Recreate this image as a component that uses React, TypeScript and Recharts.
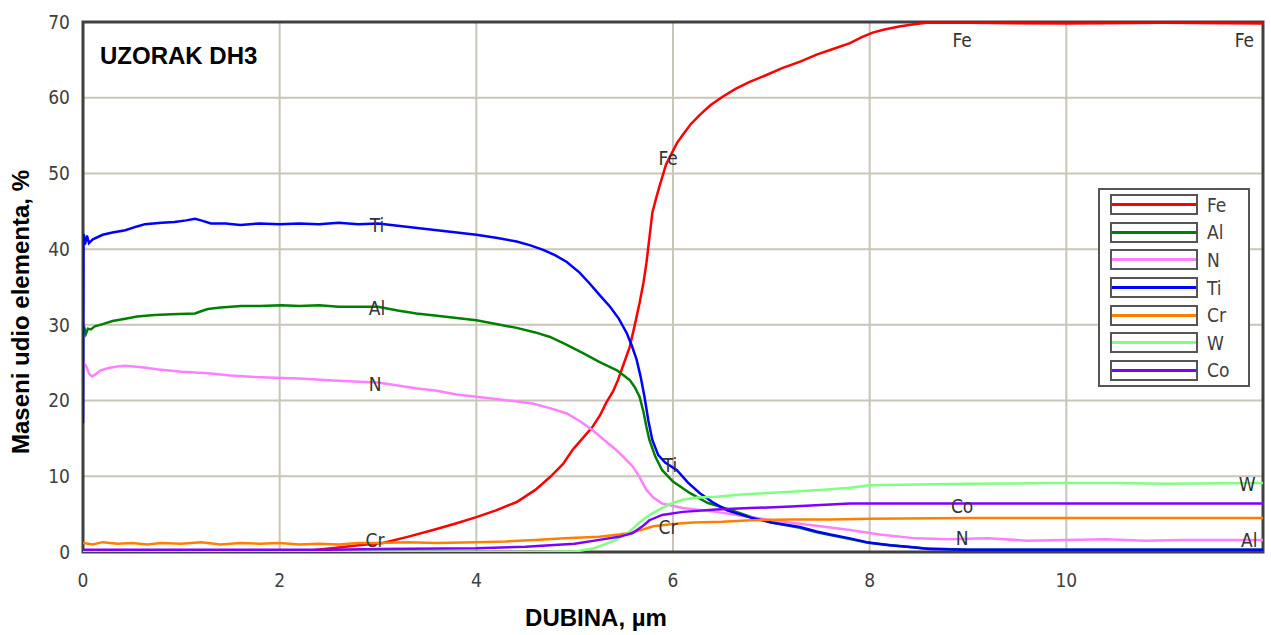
import React from "react"
import {
  LineChart,
  Line,
  XAxis,
  YAxis,
  CartesianGrid,
  Legend,
  ReferenceDot,
  ReferenceArea,
} from "recharts"

// depth (µm), mass fraction (%)
const fe = [
  [0, 0.1], [2.3, 0.2], [2.38, 0.3], [2.6, 0.6], [2.8, 0.9], [3.05, 1.2], [3.3, 2.0], [3.56, 2.9],
  [3.8, 3.8], [4.0, 4.6], [4.2, 5.5], [4.41, 6.6], [4.6, 8.2], [4.75, 9.9], [4.88, 11.6],
  [4.98, 13.5], [5.08, 15.0], [5.18, 16.5], [5.26, 18.1], [5.32, 19.7], [5.39, 21.2],
  [5.44, 22.7], [5.5, 24.9], [5.56, 27.1], [5.61, 29.9], [5.66, 32.9], [5.7, 35.6],
  [5.73, 38.2], [5.76, 41.5], [5.79, 44.8], [5.83, 46.8], [5.86, 48.2], [5.93, 51.2],
  [6.04, 54.0], [6.1, 55.1], [6.18, 56.5], [6.27, 57.7], [6.38, 59.0], [6.5, 60.1],
  [6.64, 61.2], [6.78, 62.1], [6.95, 63.0], [7.11, 63.9], [7.3, 64.8], [7.46, 65.7],
  [7.62, 66.4], [7.8, 67.2], [7.92, 68.0], [8.03, 68.6], [8.15, 69.0], [8.3, 69.4],
  [8.45, 69.7], [8.58, 69.9], [9, 69.9], [10, 69.8], [11, 69.9], [12, 69.8],
]

const al = [
  [0, 28.5], [0.01, 29.8], [0.03, 28.8], [0.05, 29.5], [0.08, 29.4], [0.12, 29.8], [0.2, 30.1],
  [0.3, 30.5], [0.43, 30.8], [0.55, 31.1], [0.73, 31.3], [0.9, 31.4], [1.14, 31.5], [1.2, 31.8],
  [1.27, 32.1], [1.4, 32.3], [1.61, 32.5], [1.8, 32.5], [2.02, 32.6], [2.2, 32.5], [2.4, 32.6],
  [2.6, 32.4], [2.8, 32.4], [3.0, 32.4], [3.2, 31.9], [3.39, 31.5], [3.6, 31.2], [3.8, 30.9],
  [4.0, 30.6], [4.2, 30.1], [4.41, 29.6], [4.6, 29.0], [4.75, 28.4], [4.9, 27.5], [5.08, 26.3],
  [5.25, 25.1], [5.43, 24.0], [5.5, 23.3], [5.56, 22.7], [5.61, 21.8], [5.66, 20.5], [5.7, 18.5],
  [5.73, 16.5], [5.76, 14.8], [5.82, 12.6], [5.89, 10.8], [6.0, 9.3], [6.17, 7.8], [6.35, 6.5],
  [6.6, 5.5], [6.8, 4.6], [7.0, 3.9], [7.29, 3.2], [7.46, 2.6], [7.8, 1.7], [8.0, 1.2],
  [8.3, 0.8], [8.54, 0.5], [9, 0.3], [12, 0.3],
]

const n = [
  [0, 25.0], [0.03, 24.6], [0.06, 23.6], [0.09, 23.2], [0.12, 23.4], [0.18, 24.0], [0.26, 24.3],
  [0.35, 24.5], [0.43, 24.6], [0.6, 24.4], [0.77, 24.1], [1.0, 23.8], [1.27, 23.6], [1.5, 23.3],
  [1.75, 23.1], [1.95, 23.0], [2.2, 22.9], [2.5, 22.7], [2.8, 22.5], [3.0, 22.4], [3.2, 22.0],
  [3.4, 21.6], [3.6, 21.3], [3.8, 20.8], [4.0, 20.5], [4.2, 20.2], [4.4, 19.9], [4.57, 19.6],
  [4.75, 19.0], [4.92, 18.3], [5.05, 17.3], [5.18, 16.1], [5.3, 14.8], [5.42, 13.5], [5.5, 12.5],
  [5.59, 11.3], [5.66, 9.9], [5.73, 8.2], [5.8, 7.2], [5.89, 6.4], [6.1, 5.8], [6.44, 5.3],
  [6.8, 4.6], [7.11, 4.0], [7.5, 3.4], [7.8, 2.9], [8.1, 2.3], [8.47, 1.8], [8.8, 1.7],
  [9.2, 1.8], [9.6, 1.5], [10, 1.6], [10.4, 1.7], [10.8, 1.5], [11.2, 1.6], [11.6, 1.6], [12, 1.6],
]

const ti = [
  [0, 17], [0.005, 42], [0.02, 40.6], [0.04, 41.8], [0.06, 40.8], [0.1, 41.3], [0.2, 41.9],
  [0.3, 42.2], [0.43, 42.5], [0.55, 43.0], [0.63, 43.3], [0.8, 43.5], [0.93, 43.6], [1.05, 43.8],
  [1.14, 44.0], [1.2, 43.8], [1.3, 43.4], [1.45, 43.4], [1.6, 43.2], [1.8, 43.4], [2.0, 43.3],
  [2.2, 43.4], [2.4, 43.3], [2.6, 43.5], [2.8, 43.3], [3.0, 43.4], [3.2, 43.1], [3.4, 42.8],
  [3.6, 42.5], [3.8, 42.2], [4.0, 41.9], [4.2, 41.5], [4.41, 41.0], [4.55, 40.5], [4.68, 39.9],
  [4.8, 39.2], [4.92, 38.3], [5.05, 36.9], [5.15, 35.5], [5.25, 34.0], [5.36, 32.4], [5.45, 30.8],
  [5.53, 28.9], [5.58, 27.3], [5.63, 25.4], [5.67, 23.2], [5.71, 20.5], [5.75, 17.3], [5.79, 14.8],
  [5.85, 12.8], [5.92, 11.8], [6.04, 10.8], [6.15, 9.2], [6.27, 7.8], [6.4, 6.6], [6.55, 5.5],
  [6.78, 4.6], [7.0, 3.9], [7.29, 3.3], [7.46, 2.7], [7.6, 2.3], [7.8, 1.8], [7.97, 1.3],
  [8.2, 0.9], [8.47, 0.6], [8.6, 0.4], [9, 0.3], [10, 0.3], [11, 0.3], [12, 0.3],
]

const cr = [
  [0, 1.2], [0.1, 1.0], [0.2, 1.3], [0.35, 1.1], [0.5, 1.2], [0.65, 1.0], [0.8, 1.2], [1.0, 1.1],
  [1.2, 1.3], [1.4, 1.0], [1.6, 1.2], [1.8, 1.1], [2.0, 1.2], [2.2, 1.0], [2.4, 1.1], [2.6, 1.0],
  [2.8, 1.2], [3.0, 1.2], [3.3, 1.3], [3.6, 1.2], [4.0, 1.3], [4.3, 1.4], [4.6, 1.6], [4.9, 1.8],
  [5.25, 2.0], [5.45, 2.3], [5.59, 2.6], [5.7, 3.0], [5.8, 3.4], [6.0, 3.7], [6.2, 3.9],
  [6.5, 4.0], [6.8, 4.2], [7.2, 4.3], [7.6, 4.3], [8.0, 4.4], [9, 4.5], [10, 4.5], [11, 4.5], [12, 4.5],
]

const w = [
  [0, 0], [4.6, 0], [5.02, 0.1], [5.2, 0.5], [5.42, 1.6], [5.55, 2.6], [5.65, 3.8], [5.73, 4.6],
  [5.79, 5.1], [5.9, 5.9], [6.0, 6.5], [6.1, 6.9], [6.25, 7.2], [6.44, 7.3], [6.7, 7.6],
  [7.11, 7.9], [7.5, 8.2], [7.8, 8.5], [8.0, 8.8], [8.5, 8.9], [9, 9.0], [9.83, 9.1],
  [10.5, 9.1], [11, 9.0], [12, 9.1],
]

const co = [
  [0, 0.3], [2.5, 0.3], [3.0, 0.4], [4.0, 0.5], [4.5, 0.7], [4.75, 0.9], [5.0, 1.1], [5.25, 1.6],
  [5.45, 2.0], [5.59, 2.5], [5.7, 3.5], [5.76, 4.2], [5.89, 4.9], [6.1, 5.3], [6.44, 5.6],
  [6.78, 5.8], [7.2, 6.0], [7.8, 6.4], [8.5, 6.4], [12, 6.4],
]

const xTicks = [0, 2, 4, 6, 8, 10]
const yTicks = [0, 10, 20, 30, 40, 50, 60, 70]

const series = [
  { name: "Fe", points: fe, color: "#ff0000" },
  { name: "Al", points: al, color: "#008000" },
  { name: "N", points: n, color: "#ff80ff" },
  { name: "Ti", points: ti, color: "#0000ff" },
  { name: "Cr", points: cr, color: "#ff8000" },
  { name: "W", points: w, color: "#80ff80" },
  { name: "Co", points: co, color: "#8000ff" },
]

// element names written on the curves
const curveLabels = [
  { text: "Ti", x: 2.99, y: 43.1 },
  { text: "Al", x: 2.99, y: 32.2 },
  { text: "N", x: 2.97, y: 22.1 },
  { text: "Cr", x: 2.97, y: 1.6 },
  { text: "Fe", x: 5.95, y: 52.0 },
  { text: "Ti", x: 5.97, y: 11.5 },
  { text: "Cr", x: 5.95, y: 3.3 },
  { text: "Fe", x: 8.94, y: 67.6 },
  { text: "Co", x: 8.94, y: 6.0 },
  { text: "N", x: 8.94, y: 1.8 },
  { text: "Fe", x: 11.81, y: 67.6 },
  { text: "W", x: 11.84, y: 8.9 },
  { text: "Al", x: 11.86, y: 1.6 },
]

const tickFont = { fontFamily: "'DejaVu Sans Condensed', 'DejaVu Sans', sans-serif", fontSize: 19, fill: "#404040" }
const titleFont = { fontFamily: "'Liberation Sans', Arial, sans-serif", fontSize: 24, fontWeight: 700, fill: "#000" }

// legend keeps the series order (Fe, Al, N, Ti, Cr, W, Co)
function LegendBox() {
  return (
    <div
      style={{
        border: "2px solid #555",
        background: "#fff",
        width: 152,
        padding: "1px 0 1px 10px",
        boxSizing: "border-box",
      }}
    >
      {series.map((s) => (
        <div key={s.name} style={{ display: "flex", alignItems: "center", height: 27.6 }}>
          <div
            style={{
              width: 88,
              height: 21,
              border: "2px solid #555",
              boxSizing: "border-box",
              display: "flex",
              alignItems: "center",
            }}
          >
            <div style={{ width: "100%", height: 3, background: s.color }} />
          </div>
          <span style={{ ...tickFont, color: "#404040", marginLeft: 9, lineHeight: "20px" }}>{s.name}</span>
        </div>
      ))}
    </div>
  )
}

export default function App() {
  return (
    <div style={{ position: "absolute", left: 0, top: 0, width: 1271, height: 635, background: "#fff" }}>
      <LineChart width={1271} height={635} margin={{ top: 22, right: 8, left: 0, bottom: 0 }}>
        <CartesianGrid stroke="#c9c5b9" strokeWidth={2} />
        <XAxis
          type="number"
          dataKey="d"
          domain={[0, 12]}
          ticks={xTicks}
          allowDataOverflow
          height={83}
          tickSize={0}
          tickMargin={22}
          axisLine={false}
          tick={tickFont}
          label={{ value: "DUBINA, µm", position: "center", dx: -77, dy: 24, style: titleFont }}
        />
        <YAxis
          type="number"
          domain={[0, 70]}
          ticks={yTicks}
          allowDataOverflow
          width={83}
          tickSize={0}
          tickMargin={13}
          axisLine={false}
          tick={tickFont}
          label={{ value: "Maseni udio elementa, %", angle: -90, position: "center", dx: -21, dy: 25, style: titleFont }}
        />
        <ReferenceArea x1={0} x2={12} y1={0} y2={70} fill="none" fillOpacity={0} stroke="#404040" strokeWidth={3} />
        {series.map((s) => (
          <Line
            key={s.name}
            name={s.name}
            data={s.points.map(([d, v]) => ({ d, v }))}
            dataKey="v"
            type="linear"
            stroke={s.color}
            strokeWidth={2.5}
            dot={false}
            activeDot={false}
            isAnimationActive={false}
          />
        ))}
        {curveLabels.map((l, i) => (
          <ReferenceDot
            key={i}
            x={l.x}
            y={l.y}
            r={0}
            fill="none"
            stroke="none"
            label={{ value: l.text, position: "center", style: { ...tickFont, fill: "#333" } }}
          />
        ))}
        <Legend
          layout="horizontal"
          verticalAlign="middle"
          align="center"
          content={<LegendBox />}
          wrapperStyle={{ left: 1098, top: 188, width: 152, height: 197 }}
        />
        <text x={100} y={64} style={titleFont as any}>
          UZORAK DH3
        </text>
      </LineChart>
    </div>
  )
}
